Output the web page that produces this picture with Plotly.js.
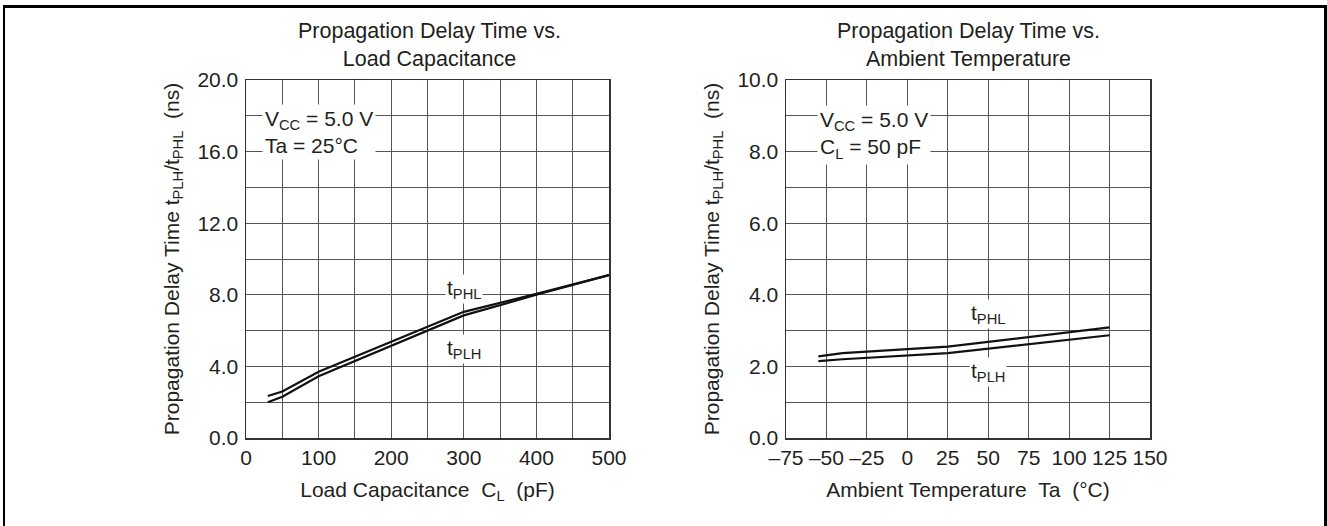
<!DOCTYPE html>
<html>
<head>
<meta charset="utf-8">
<script src="https://cdn.plot.ly/plotly-3.0.1.min.js"></script>
<style>
  html, body { margin: 0; padding: 0; background: #fff; }
  #wrap { position: relative; width: 1327px; height: 526px; overflow: hidden; }
  #chart { position: absolute; left: 0; top: 0; width: 1327px; height: 526px; }
  #frame { position: absolute; left: 3px; top: 5px; width: 1319px; height: 540px;
           border-left: 2px solid #000; border-top: 3px solid #000; border-right: 3px solid #000; pointer-events: none; }
</style>
</head>
<body>
<div id="wrap">
  <div id="chart"></div>
  <div id="frame"></div>
</div>
<script>
// ---- Left chart: delay vs load capacitance (Vcc = 5.0 V, Ta = 25°C)
const loadCap = [30, 50, 100, 300, 400, 500];            // pF
const tPHL_cap = [2.35, 2.6, 3.7, 7.05, 8.05, 9.1];       // ns
const tPLH_cap = [2.0, 2.3, 3.45, 6.85, 8.0, 9.1];        // ns

// ---- Right chart: delay vs ambient temperature (Vcc = 5.0 V, CL = 50 pF)
const ambTemp = [-55, -40, 25, 125];                      // °C
const tPHL_temp = [2.28, 2.37, 2.55, 3.09];               // ns
const tPLH_temp = [2.15, 2.2, 2.37, 2.87];                // ns

const tempTicks = [-75, -50, -25, 0, 25, 50, 75, 100, 125, 150];
const tempTickText = ['\u201375', '\u201350', '\u201325', '0', '25', '50', '75', '100', '125', '150'];

const FONT = 'Liberation Sans, Arial, Helvetica, sans-serif';
const TXT = '#231f20';
const GRID = '#555555';
const FS = 21;

const line = { color: '#111', width: 2.2 };

const traces = [
  { x: loadCap, y: tPHL_cap, xaxis: 'x', yaxis: 'y', mode: 'lines', line: line, name: 'tPHL', showlegend: false },
  { x: loadCap, y: tPLH_cap, xaxis: 'x', yaxis: 'y', mode: 'lines', line: line, name: 'tPLH', showlegend: false },
  { x: ambTemp, y: tPHL_temp, xaxis: 'x2', yaxis: 'y2', mode: 'lines', line: line, name: 'tPHL', showlegend: false },
  { x: ambTemp, y: tPLH_temp, xaxis: 'x2', yaxis: 'y2', mode: 'lines', line: line, name: 'tPLH', showlegend: false }
];

const W = 1327, H = 526;
const px = v => v / W;
const py = v => 1 - v / H;

const yTitle = 'Propagation Delay Time t<sub>PLH</sub>/t<sub>PHL</sub>\u00a0\u00a0(ns)';

const axisCommon = {
  showline: true, mirror: true, linecolor: '#333', linewidth: 1.5,
  showgrid: true, gridcolor: GRID, gridwidth: 1,
  ticks: '', zeroline: false, automargin: false,
  tickfont: { family: FONT, size: FS, color: TXT },
  fixedrange: true
};

const layout = {
  width: W, height: H,
  margin: { l: 0, r: 0, t: 0, b: 0 },
  paper_bgcolor: 'rgba(0,0,0,0)', plot_bgcolor: '#fff',
  showlegend: false,
  font: { family: FONT, size: FS, color: TXT },
  xaxis: Object.assign({}, axisCommon, {
    domain: [px(246), px(609)], range: [0, 500], dtick: 100, tick0: 0,
    minor: { dtick: 50, showgrid: true, gridcolor: GRID, gridwidth: 1, ticks: '' },
    anchor: 'y',
    title: { text: 'Load Capacitance\u00a0\u00a0C<sub>L</sub>\u00a0\u00a0(pF)', font: { family: FONT, size: FS, color: TXT }, standoff: 14 }
  }),
  yaxis: Object.assign({}, axisCommon, {
    domain: [py(438), py(80)], range: [0, 20], dtick: 4, tick0: 0, tickformat: '.1f',
    minor: { dtick: 2, showgrid: true, gridcolor: GRID, gridwidth: 1, ticks: '' },
    anchor: 'x', ticklabelstandoff: 2,
    title: { text: yTitle, font: { family: FONT, size: FS, color: TXT }, standoff: 12 }
  }),
  xaxis2: Object.assign({}, axisCommon, {
    domain: [px(786), px(1150)], range: [-75, 150],
    tickmode: 'array', tickvals: tempTicks, ticktext: tempTickText,
    anchor: 'y2',
    title: { text: 'Ambient Temperature\u00a0\u00a0Ta\u00a0\u00a0(\u00b0C)', font: { family: FONT, size: FS, color: TXT }, standoff: 14 }
  }),
  yaxis2: Object.assign({}, axisCommon, {
    domain: [py(438), py(80)], range: [0, 10], dtick: 2, tick0: 0, tickformat: '.1f',
    minor: { dtick: 1, showgrid: true, gridcolor: GRID, gridwidth: 1, ticks: '' },
    anchor: 'x2', ticklabelstandoff: 2,
    title: { text: yTitle, font: { family: FONT, size: FS, color: TXT }, standoff: 12 }
  }),
  annotations: [
    { xref: 'paper', yref: 'paper', x: px(430), y: py(45), xanchor: 'center', yanchor: 'middle',
      text: 'Propagation Delay Time vs.<br>Load Capacitance', showarrow: false,
      font: { family: FONT, size: 21.5, color: TXT } },
    { xref: 'paper', yref: 'paper', x: px(968), y: py(45), xanchor: 'center', yanchor: 'middle',
      text: 'Propagation Delay Time vs.<br>Ambient Temperature', showarrow: false,
      font: { family: FONT, size: 21.5, color: TXT } },
    { xref: 'x', yref: 'y', x: 22, y: 17.1, xanchor: 'left', yanchor: 'middle', align: 'left',
      text: 'V<sub>CC</sub> = 5.0 V<br>Ta = 25\u00b0C', showarrow: false, bgcolor: '#fff', borderpad: 2,
      font: { family: FONT, size: FS, color: TXT } },
    { xref: 'x2', yref: 'y2', x: -56, y: 8.45, xanchor: 'left', yanchor: 'middle', align: 'left',
      text: 'V<sub>CC</sub> = 5.0 V<br>C<sub>L</sub> = 50 pF', showarrow: false, bgcolor: '#fff', borderpad: 2,
      font: { family: FONT, size: FS, color: TXT } },
    { xref: 'x', yref: 'y', x: 300, y: 8.3, xanchor: 'center', yanchor: 'middle',
      text: 't<sub>PHL</sub>', showarrow: false, bgcolor: '#fff', borderpad: 1,
      font: { family: FONT, size: FS, color: TXT } },
    { xref: 'x', yref: 'y', x: 300, y: 5.0, xanchor: 'center', yanchor: 'middle',
      text: 't<sub>PLH</sub>', showarrow: false, bgcolor: '#fff', borderpad: 1,
      font: { family: FONT, size: FS, color: TXT } },
    { xref: 'x2', yref: 'y2', x: 50, y: 3.45, xanchor: 'center', yanchor: 'middle',
      text: 't<sub>PHL</sub>', showarrow: false, bgcolor: '#fff', borderpad: 1,
      font: { family: FONT, size: FS, color: TXT } },
    { xref: 'x2', yref: 'y2', x: 50, y: 1.84, xanchor: 'center', yanchor: 'middle',
      text: 't<sub>PLH</sub>', showarrow: false, bgcolor: '#fff', borderpad: 1,
      font: { family: FONT, size: FS, color: TXT } }
  ]
};

Plotly.newPlot('chart', traces, layout, { staticPlot: true, displayModeBar: false });
</script>
</body>
</html>
